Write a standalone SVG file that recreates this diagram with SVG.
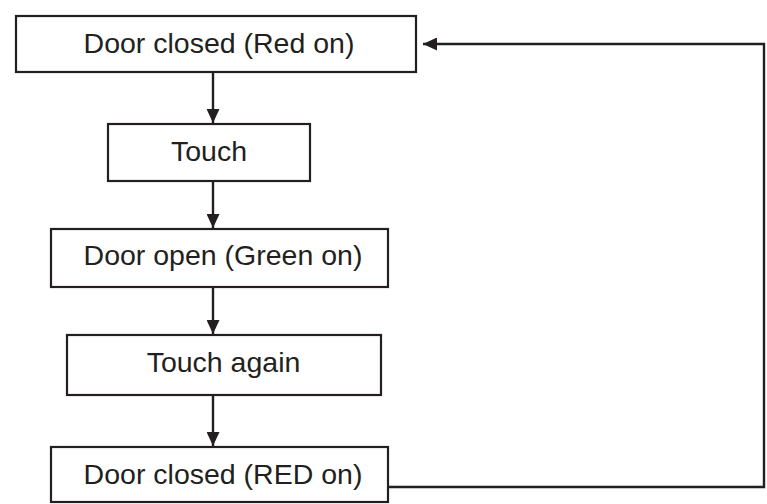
<svg xmlns="http://www.w3.org/2000/svg" width="767" height="504" viewBox="0 0 767 504">
<defs>
<style>
.box{fill:#fff;stroke:#231f20;stroke-width:2.2}
.lbl{font-family:"Liberation Sans",Arial,sans-serif;font-size:28.5px;fill:#231f20;text-anchor:middle}
.conn{fill:none;stroke:#231f20;stroke-width:2.4}
</style>
<marker id="ah" viewBox="0 0 14 13" refX="14" refY="6.5" markerWidth="14" markerHeight="13" markerUnits="userSpaceOnUse" orient="auto">
<path d="M0,0 L14,6.5 L0,13 Z" fill="#231f20"/>
</marker>
</defs>
<rect width="767" height="504" fill="#fff"/>
<g id="connectors">
<line class="conn" x1="213" y1="72" x2="213" y2="123" marker-end="url(#ah)"/>
<line class="conn" x1="213" y1="181" x2="213" y2="228" marker-end="url(#ah)"/>
<line class="conn" x1="213" y1="287" x2="213" y2="334" marker-end="url(#ah)"/>
<line class="conn" x1="213" y1="395" x2="213" y2="446" marker-end="url(#ah)"/>
<polyline class="conn" points="388,487 764,487 764,44 423,44" marker-end="url(#ah)"/>
</g>
<g id="n1">
<rect class="box" x="16" y="16" width="400" height="56"/>
<text class="lbl" x="219" y="53">Door closed (Red on)</text>
</g>
<g id="n2">
<rect class="box" x="108" y="124" width="202" height="57"/>
<text class="lbl" x="209" y="161">Touch</text>
</g>
<g id="n3">
<rect class="box" x="51" y="229" width="337" height="58"/>
<text class="lbl" x="223" y="265">Door open (Green on)</text>
</g>
<g id="n4">
<rect class="box" x="67" y="335" width="314" height="60"/>
<text class="lbl" x="223.5" y="372">Touch again</text>
</g>
<g id="n5">
<rect class="box" x="51" y="447" width="337" height="55"/>
<text class="lbl" x="223" y="484">Door closed (RED on)</text>
</g>
</svg>
